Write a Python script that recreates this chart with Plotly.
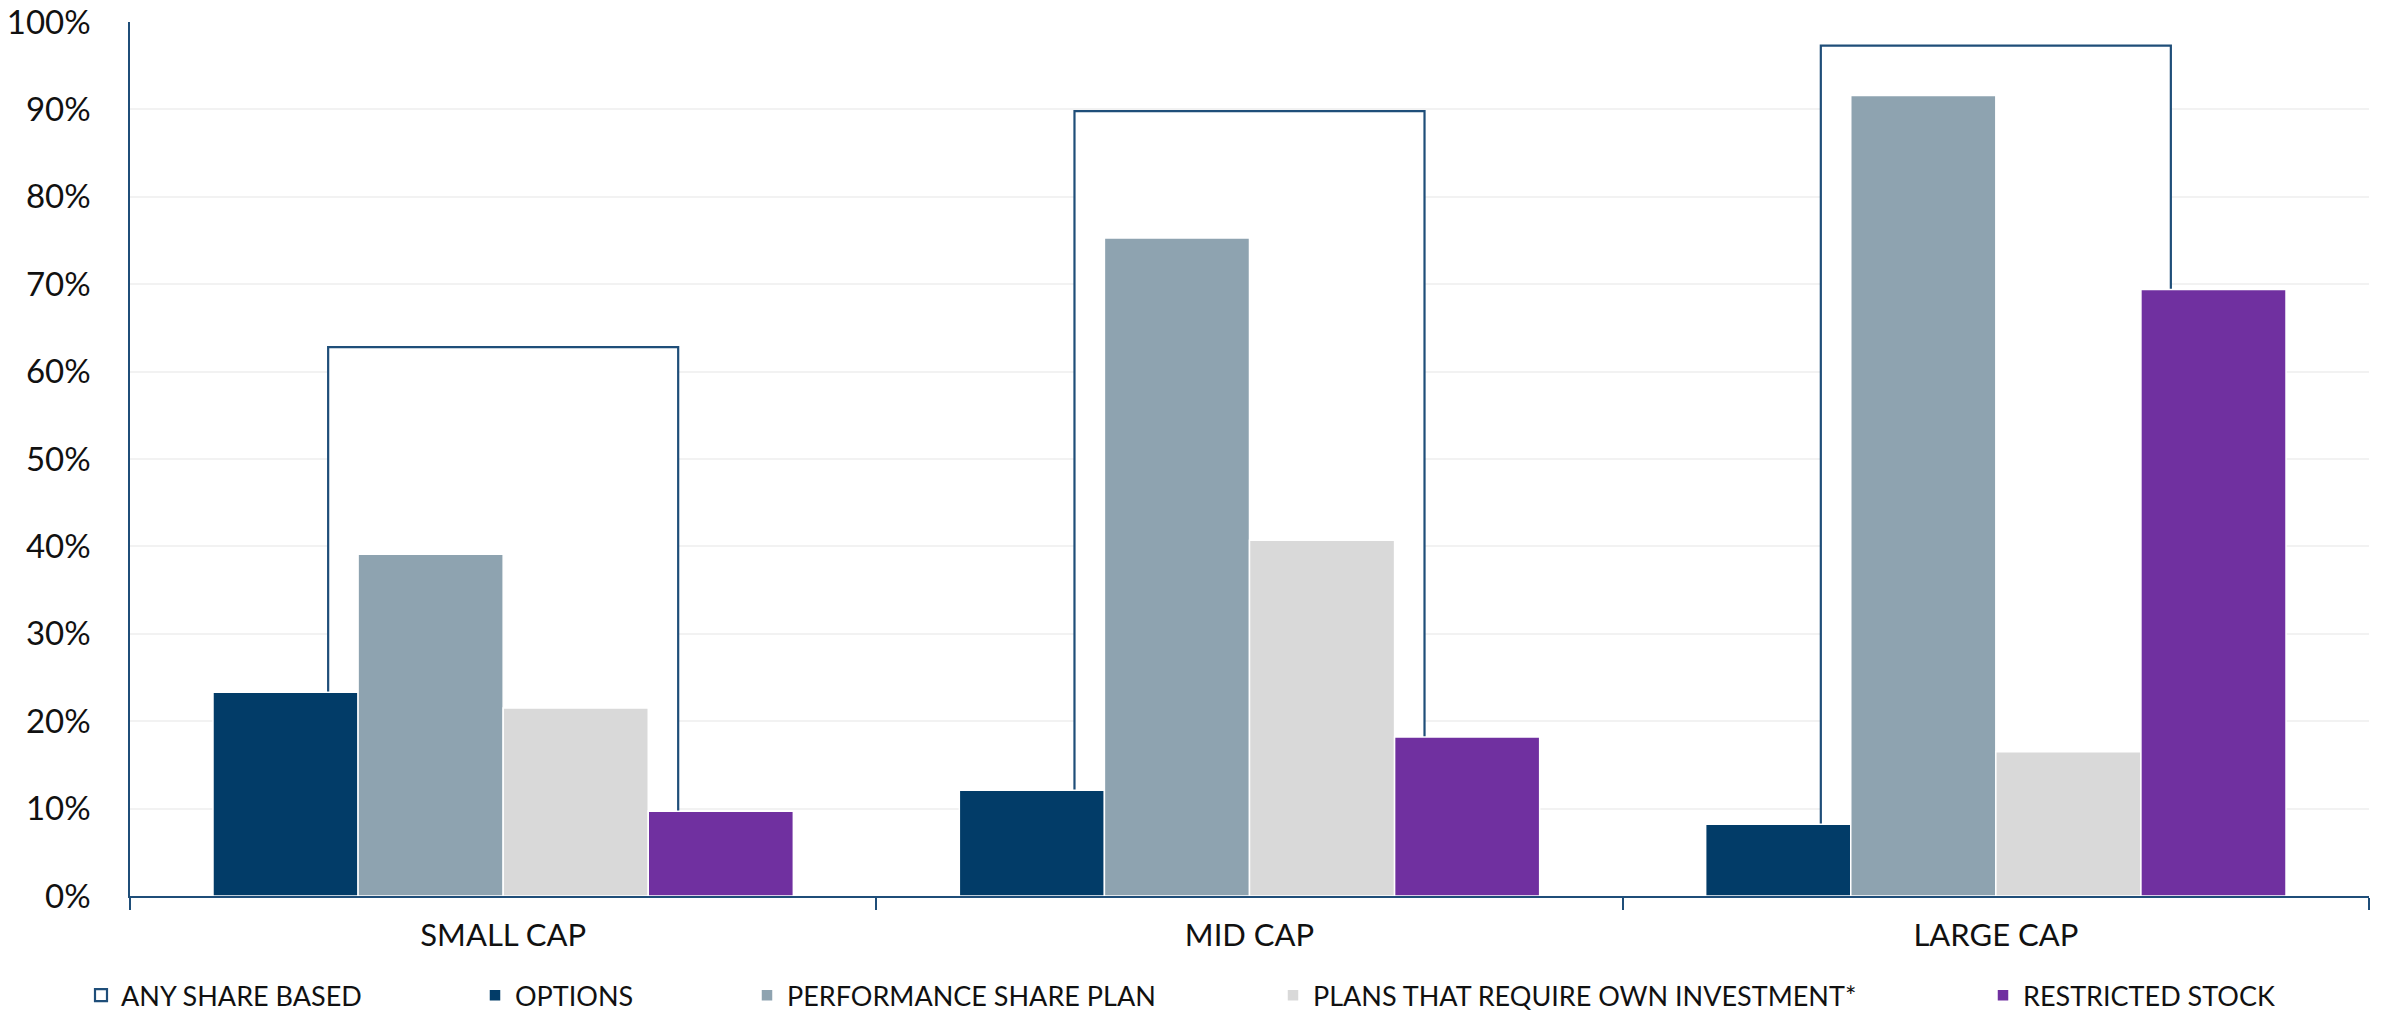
import plotly.graph_objects as go

categories = ["SMALL CAP", "MID CAP", "LARGE CAP"]
any_share_based = [62.8, 89.8, 97.3]
options = [23.3, 12.1, 8.2]
performance_share_plan = [39.1, 75.3, 91.6]
plans_own_investment = [21.5, 40.7, 16.5]
restricted_stock = [9.7, 18.2, 69.4]

series_names = ["OPTIONS", "PERFORMANCE SHARE PLAN",
                "PLANS THAT REQUIRE OWN INVESTMENT*", "RESTRICTED STOCK"]
series_values = [options, performance_share_plan, plans_own_investment, restricted_stock]
series_colors = ["#023C68", "#8EA3B0", "#D9D9D9", "#7030A0"]

W, H = 2396, 1012
ML, MR, MT, MB = 130, 27, 22, 116
PW = W - ML - MR
FONT = "Lato"

fig = go.Figure()

# hollow "any share based" bar behind the groups
fig.add_trace(go.Bar(
    x=categories, y=any_share_based, name="ANY SHARE BASED",
    offset=-0.2345, width=0.469,
    marker=dict(color="white", line=dict(color="#1F4E79", width=2.2)),
    legend="legend", showlegend=True,
))

slot = 0.1944
legend_ids = ["legend2", "legend3", "legend4", "legend5"]
for i, (nm, vals, col) in enumerate(zip(series_names, series_values, series_colors)):
    fig.add_trace(go.Bar(
        x=categories, y=vals, name=nm,
        offset=-2 * slot + i * slot, width=slot,
        marker=dict(color=col, line=dict(color="white", width=1.5)),
        legend=legend_ids[i], showlegend=True,
    ))

# legend text-start targets in pixels
text_starts = [126, 520, 792, 1318, 2028]
leg_y = -0.114

def leg(px):
    return dict(
        x=(px - 45 - ML) / PW, xanchor="left", y=leg_y, yanchor="middle",
        orientation="h", bgcolor="rgba(0,0,0,0)",
        font=dict(family=FONT, size=27, color="#111111"),
        itemclick=False, itemdoubleclick=False,
    )

fig.update_layout(
    width=W, height=H,
    margin=dict(l=ML, r=MR, t=MT, b=MB, autoexpand=False),
    paper_bgcolor="white", plot_bgcolor="white",
    barmode="overlay", showlegend=True,
    font=dict(family=FONT, color="#111111"),
    legend=leg(text_starts[0]),
    legend2=leg(text_starts[1]),
    legend3=leg(text_starts[2]),
    legend4=leg(text_starts[3]),
    legend5=leg(text_starts[4]),
)

fig.update_xaxes(
    type="category", categoryorder="array", categoryarray=categories,
    range=[-0.5, 2.5],
    showline=True, linecolor="#1F4E79", linewidth=1.5,
    ticks="outside", tickson="boundaries", ticklen=12, tickcolor="#1F4E79", tickwidth=1.5,
    tickfont=dict(family=FONT, size=31, color="#111111"),
    ticklabelstandoff=11,
    showgrid=False,
)
fig.update_yaxes(
    range=[0, 100], dtick=10, ticksuffix="%",
    showline=True, linecolor="#1F4E79", linewidth=1.5,
    showgrid=True, gridcolor="#F2F2F2", gridwidth=1.5,
    zeroline=False,
    tickfont=dict(family=FONT, size=33, color="#111111"),
    ticklabelstandoff=31,
)

fig.write_html("out.html")
